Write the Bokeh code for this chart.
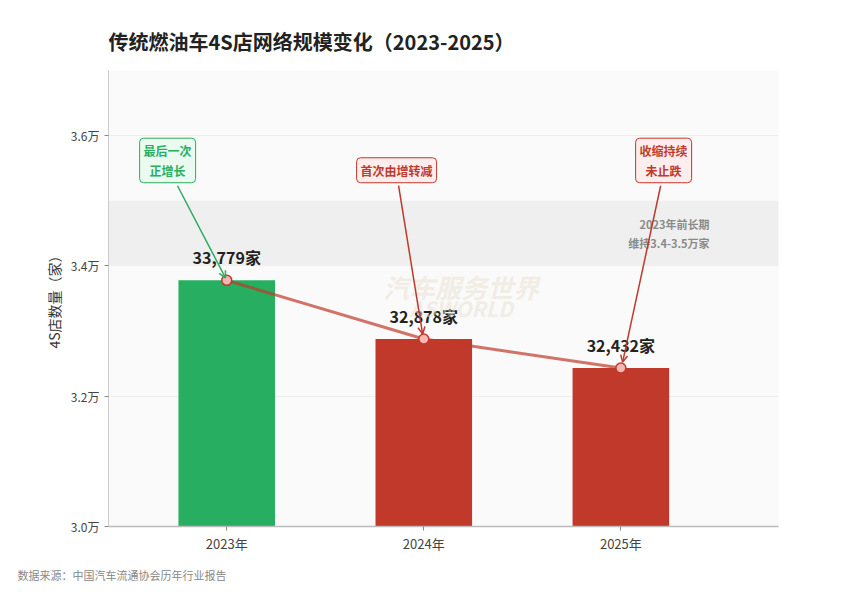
from bokeh.plotting import figure
from bokeh.models import (ColumnDataSource, FixedTicker, BoxAnnotation, Label,
                          Arrow, OpenHead, Title)
from bokeh.core.properties import value
from bokeh.embed import file_html
from bokeh.resources import INLINE

FONT = "Noto Sans CJK SC"

years = ["2023年", "2024年", "2025年"]
counts = [33779, 32878, 32432]
bar_colors = ["#27ae60", "#c0392b", "#c0392b"]
count_labels = ["33,779家", "32,878家", "32,432家"]

y_ticks = [30000, 32000, 34000, 36000]
y_tick_labels = ["3.0万", "3.2万", "3.4万", "3.6万"]

band_low, band_high = 34000, 35000
band_text = "2023年前长期\n维持3.4-3.5万家"

notes = ["最后一次\n正增长", "首次由增转减", "收缩持续\n未止跌"]
note_colors = ["#27ae60", "#c0392b", "#c0392b"]
note_fills = ["#eafaf1", "#fdedec", "#fdedec"]

title_text = "传统燃油车4S店网络规模变化（2023-2025）"
source_text = "数据来源：中国汽车流通协会历年行业报告"

xs = list(range(len(years)))
source = ColumnDataSource(data=dict(x=xs, count=counts, color=bar_colors,
                                    label=count_labels))

p = figure(width=849, height=592, x_range=(-0.6, 2.8), y_range=(30000, 37000),
           output_backend="svg", toolbar_location=None,
           min_border_left=108, min_border_right=71,
           min_border_top=70, min_border_bottom=66)
p.background_fill_color = "#fafafa"
p.border_fill_color = "white"
p.outline_line_color = None

p.add_layout(Title(text=title_text, align="left", text_font=FONT,
                   text_font_size="20px", text_font_style="bold",
                   text_color="#222222", standoff=29), "above")
p.add_layout(Title(text=source_text, align="left", offset=-91, text_font=FONT,
                   text_font_size="11px", text_font_style="normal",
                   text_color="#888888", standoff=18), "below")

band = BoxAnnotation(bottom=band_low, top=band_high, fill_color="#efefef",
                     fill_alpha=1, line_color=None, level="underlay")
p.add_layout(band)

p.vbar(x="x", top="count", bottom=30000, width=0.49, color="color",
       line_color=None, source=source)

p.line(x="x", y="count", source=source, line_color="#c0392b", line_alpha=0.7,
       line_width=3)
p.scatter(x="x", y="count", source=source, size=10, fill_color="#f5b7b1",
          line_color="#c0392b", line_width=1.5)

p.text(x="x", y="count", text="label", source=source, y_offset=-23,
       text_align="center", text_baseline="middle",
       text_font=value(FONT), text_font_size="16px", text_font_style="bold",
       text_color="#222222")

# watermark
p.add_layout(Label(x=1.19, y=33680, text="汽车服务世界", text_align="center",
                   text_baseline="middle", text_font=FONT, text_font_size="26px",
                   text_font_style="bold italic", text_color="#e8dfcf",
                   text_alpha=0.5))
p.add_layout(Label(x=1.19, y=33350, text="ASWORLD", text_align="center",
                   text_baseline="middle", text_font=FONT, text_font_size="21px",
                   text_font_style="bold italic", text_color="#e8dfcf",
                   text_alpha=0.5))

p.add_layout(Label(x=2.45, y=34500, text=band_text, text_align="right",
                   text_baseline="middle", text_font=FONT, text_font_size="11px",
                   text_font_style="bold", text_color="#8a8a8a"))

# callouts
note_x = [-0.30, 0.862, 2.217]
arrow_start_x = [-0.25, 0.872, 2.202]
arrow_end = [(-0.006, 33815), (0.994, 32954), (2.009, 32523)]
for i, txt in enumerate(notes):
    p.add_layout(Arrow(end=OpenHead(size=7, line_color=note_colors[i], line_width=1.5),
                       x_start=arrow_start_x[i], y_start=35231,
                       x_end=arrow_end[i][0], y_end=arrow_end[i][1],
                       line_color=note_colors[i], line_width=1.5))
    p.add_layout(Label(x=note_x[i], y=35277, text=txt, anchor="bottom_center",
                       text_align="center", text_font=FONT,
                       text_font_size="12px", text_font_style="bold",
                       text_color=note_colors[i], text_line_height=1.15,
                       background_fill_color=note_fills[i],
                       border_line_color=note_colors[i], border_line_width=1,
                       border_radius=4, padding=4))

p.xaxis.ticker = FixedTicker(ticks=xs)
p.xaxis.major_label_overrides = {i: y for i, y in enumerate(years)}
p.yaxis.ticker = FixedTicker(ticks=y_ticks)
p.yaxis.major_label_overrides = {t: l for t, l in zip(y_ticks, y_tick_labels)}
p.yaxis.axis_label = "4S店数量（家）"
p.yaxis.axis_label_standoff = 4
p.yaxis.axis_label_text_font = FONT
p.yaxis.axis_label_text_font_size = "14px"
p.yaxis.axis_label_text_font_style = "normal"
p.yaxis.axis_label_text_color = "#333333"

for ax in (p.xaxis, p.yaxis):
    ax.major_label_text_font = FONT
    ax.major_label_text_font_size = "12px"
    ax.major_label_text_color = "#444444"
    ax.minor_tick_line_color = None
    ax.major_tick_in = 0
    ax.major_tick_out = 4
    ax.major_tick_line_color = "#888888"
p.xaxis.major_label_text_font_size = "13px"
p.xaxis.major_label_standoff = 3
p.xaxis.axis_line_color = "#bbbbbb"
p.xaxis.axis_line_width = 1.5
p.yaxis.axis_line_color = "#cccccc"

p.xgrid.grid_line_color = None
p.ygrid.grid_line_color = "#eeeeee"
p.ygrid.grid_line_width = 1

open("out.html", "w").write(file_html(p, INLINE))
